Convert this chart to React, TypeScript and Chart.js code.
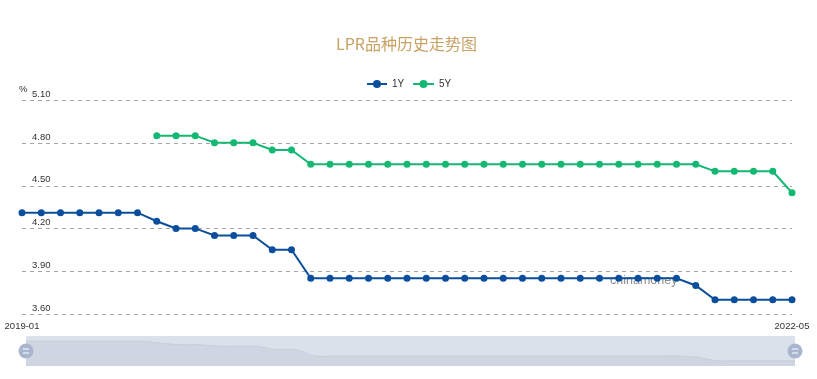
import { useEffect, useRef } from "react";
import { Chart, registerables } from "chart.js";

Chart.register(...registerables);

const months = [
  "2019-01","2019-02","2019-03","2019-04","2019-05","2019-06","2019-07","2019-08","2019-09","2019-10","2019-11","2019-12",
  "2020-01","2020-02","2020-03","2020-04","2020-05","2020-06","2020-07","2020-08","2020-09","2020-10","2020-11","2020-12",
  "2021-01","2021-02","2021-03","2021-04","2021-05","2021-06","2021-07","2021-08","2021-09","2021-10","2021-11","2021-12",
  "2022-01","2022-02","2022-03","2022-04","2022-05",
];

const oneY = [
  4.31, 4.31, 4.31, 4.31, 4.31, 4.31, 4.31, 4.25, 4.2, 4.2, 4.15, 4.15,
  4.15, 4.05, 4.05, 3.85, 3.85, 3.85, 3.85, 3.85, 3.85, 3.85, 3.85, 3.85,
  3.85, 3.85, 3.85, 3.85, 3.85, 3.85, 3.85, 3.85, 3.85, 3.85, 3.85, 3.8,
  3.7, 3.7, 3.7, 3.7, 3.7,
];

const fiveY = [
  null, null, null, null, null, null, null, 4.85, 4.85, 4.85, 4.8, 4.8,
  4.8, 4.75, 4.75, 4.65, 4.65, 4.65, 4.65, 4.65, 4.65, 4.65, 4.65, 4.65,
  4.65, 4.65, 4.65, 4.65, 4.65, 4.65, 4.65, 4.65, 4.65, 4.65, 4.65, 4.65,
  4.6, 4.6, 4.6, 4.6, 4.45,
];

const yTicks = [3.6, 3.9, 4.2, 4.5, 4.8, 5.1];
const yTickLabels = ["3.60", "3.90", "4.20", "4.50", "4.80", "5.10"];
const xEndLabels = ["2019-01", "2022-05"];

const seriesNames = ["1Y", "5Y"];
const titleText = "LPR品种历史走势图";
const unitText = "%";
const watermarkText = "chinamoney";

const BLUE = "#0b4f9c";
const GREEN = "#14b872";
const FONT = "'Liberation Sans', Arial, sans-serif";

export default function App() {
  const mainRef = useRef<HTMLCanvasElement | null>(null);
  const sliderRef = useRef<HTMLCanvasElement | null>(null);

  useEffect(() => {
    document.body.style.margin = "0";
    const decor = {
      id: "decor",
      beforeDatasetsDraw(chart: any) {
        const ctx = chart.ctx;
        const area = chart.chartArea;
        const y = chart.scales.y;
        ctx.save();
        // grid
        ctx.strokeStyle = "#a6a6a6";
        ctx.lineWidth = 1;
        ctx.setLineDash([4, 4]);
        yTicks.forEach((v) => {
          const py = Math.round(y.getPixelForValue(v)) + 0.5;
          ctx.beginPath();
          ctx.moveTo(area.left, py);
          ctx.lineTo(area.right, py);
          ctx.stroke();
        });
        ctx.setLineDash([]);
        // y labels
        ctx.fillStyle = "#333";
        ctx.font = `9.5px ${FONT}`;
        ctx.textAlign = "left";
        ctx.textBaseline = "bottom";
        yTicks.forEach((v, i) => {
          const py = y.getPixelForValue(v);
          ctx.fillText(yTickLabels[i], area.left + 10, py - 1);
        });
        ctx.fillText(unitText, area.left - 3, y.getPixelForValue(5.1) - 6);
        // x labels
        ctx.textAlign = "center";
        ctx.textBaseline = "middle";
        const x = chart.scales.x;
        ctx.fillText(xEndLabels[0], x.getPixelForValue(0), area.bottom + 12);
        ctx.fillText(xEndLabels[1], x.getPixelForValue(months.length - 1), area.bottom + 12);
        // watermark
        ctx.fillStyle = "rgba(120,120,120,0.85)";
        ctx.font = `12.5px ${FONT}`;
        ctx.textAlign = "left";
        ctx.fillText(watermarkText, 610, 281);
        // title
        ctx.fillStyle = "#c8a165";
        ctx.font = `16px 'Noto Sans CJK SC', sans-serif`;
        ctx.textAlign = "center";
        ctx.fillText(titleText, chart.width / 2 - 2, 44);
        // legend
        const items = [
          { c: BLUE, x0: 367, x1: 387, tx: 392 },
          { c: GREEN, x0: 413, x1: 434, tx: 439 },
        ];
        items.forEach((it, i) => {
          ctx.strokeStyle = it.c;
          ctx.lineWidth = 2;
          ctx.beginPath();
          ctx.moveTo(it.x0, 84);
          ctx.lineTo(it.x1, 84);
          ctx.stroke();
          ctx.fillStyle = it.c;
          ctx.beginPath();
          ctx.arc((it.x0 + it.x1) / 2, 84, 4, 0, Math.PI * 2);
          ctx.fill();
          ctx.fillStyle = "#333";
          ctx.font = `10px ${FONT}`;
          ctx.textAlign = "left";
          ctx.fillText(seriesNames[i], it.tx, 84);
        });
        ctx.restore();
      },
    };

    const main = new Chart(mainRef.current as HTMLCanvasElement, {
      type: "line",
      data: {
        labels: months,
        datasets: [
          {
            label: seriesNames[0],
            data: oneY,
            borderColor: BLUE,
            backgroundColor: BLUE,
            borderWidth: 2,
            pointRadius: 3.5,
            pointBorderWidth: 0,
            tension: 0,
            clip: false,
          } as any,
          {
            label: seriesNames[1],
            data: fiveY,
            borderColor: GREEN,
            backgroundColor: GREEN,
            borderWidth: 2,
            pointRadius: 3.5,
            pointBorderWidth: 0,
            tension: 0,
            clip: false,
          } as any,
        ],
      },
      options: {
        animation: false,
        responsive: false,
        maintainAspectRatio: false,
        devicePixelRatio: 1,
        layout: { padding: { left: 22, right: 25, top: 100, bottom: 65 } },
        plugins: { legend: { display: false }, title: { display: false }, tooltip: { enabled: false } },
        scales: {
          x: { display: false },
          y: { display: false, min: 3.6, max: 5.1 },
        },
      },
      plugins: [decor],
    });

    const sliderDecor = {
      id: "sliderDecor",
      beforeDatasetsDraw(chart: any) {
        const ctx = chart.ctx;
        const a = chart.chartArea;
        ctx.save();
        ctx.fillStyle = "#dbe1ea";
        ctx.fillRect(a.left, a.top, a.right - a.left, a.bottom - a.top);
        ctx.restore();
      },
      afterDraw(chart: any) {
        const ctx = chart.ctx;
        const a = chart.chartArea;
        const cy = (a.top + a.bottom) / 2;
        ctx.save();
        [a.left, a.right].forEach((cx) => {
          ctx.fillStyle = "#a8b6cf";
          ctx.beginPath();
          ctx.arc(cx, cy, 7.5, 0, Math.PI * 2);
          ctx.fill();
          ctx.strokeStyle = "#ffffff";
          ctx.lineWidth = 1.2;
          ctx.beginPath();
          ctx.moveTo(cx - 3, cy - 2);
          ctx.lineTo(cx + 3, cy - 2);
          ctx.moveTo(cx - 3, cy + 2);
          ctx.lineTo(cx + 3, cy + 2);
          ctx.stroke();
        });
        ctx.restore();
      },
    };

    const slider = new Chart(sliderRef.current as HTMLCanvasElement, {
      type: "line",
      data: {
        labels: months,
        datasets: [
          {
            data: oneY,
            borderColor: "#c5cedb",
            backgroundColor: "#cfd6e1",
            borderWidth: 1,
            pointRadius: 0,
            fill: "start",
            tension: 0.3,
          } as any,
        ],
      },
      options: {
        animation: false,
        responsive: false,
        maintainAspectRatio: false,
        devicePixelRatio: 1,
        layout: { padding: { left: 26, right: 22, top: 6, bottom: 9 } },
        plugins: { legend: { display: false }, title: { display: false }, tooltip: { enabled: false } },
        scales: {
          x: { display: false },
          y: { display: false, min: 3.54, max: 4.47 },
        },
      },
      plugins: [sliderDecor],
    });

    return () => {
      main.destroy();
      slider.destroy();
    };
  }, []);

  return (
    <div style={{ position: "relative", width: 817, height: 379 }}>
      <canvas ref={mainRef} width={817} height={379} style={{ position: "absolute", left: 0, top: 0, width: 817, height: 379 }} />
      <canvas ref={sliderRef} width={817} height={45} style={{ position: "absolute", left: 0, top: 330, width: 817, height: 45 }} />
    </div>
  );
}
